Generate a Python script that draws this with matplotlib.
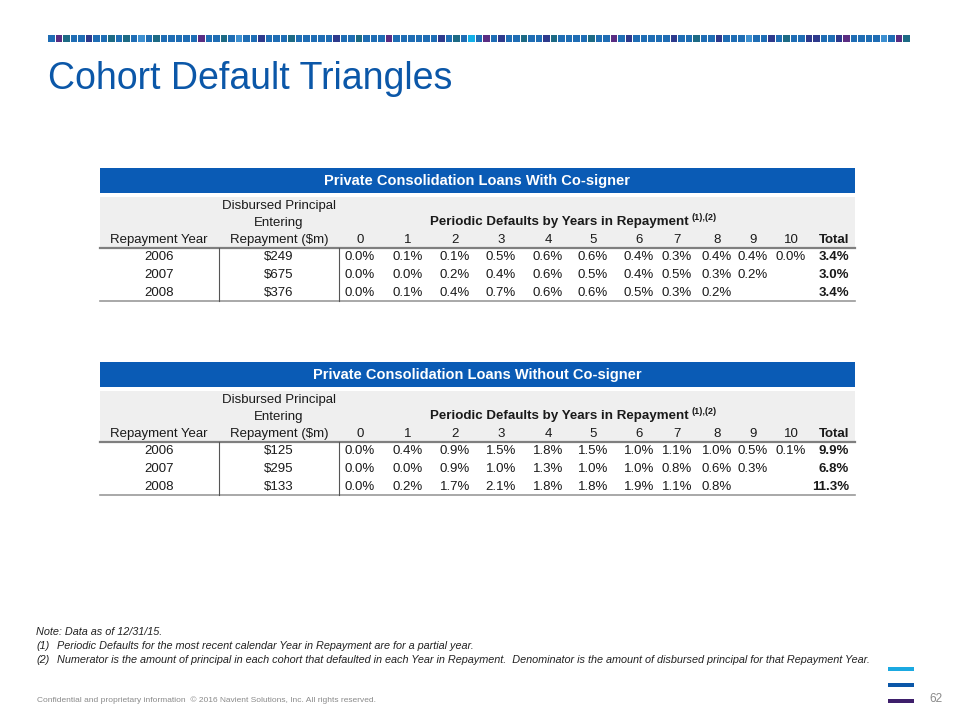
import matplotlib.pyplot as plt
from matplotlib.patches import Rectangle

plt.rcParams['font.family'] = ['Liberation Sans', 'DejaVu Sans']

# data
years = ['2006', '2007', '2008']
year_cols = ['0', '1', '2', '3', '4', '5', '6', '7', '8', '9', '10']

principal_cosigner = [249, 675, 376]
defaults_cosigner = [
    [0.0, 0.1, 0.1, 0.5, 0.6, 0.6, 0.4, 0.3, 0.4, 0.4, 0.0],
    [0.0, 0.0, 0.2, 0.4, 0.6, 0.5, 0.4, 0.5, 0.3, 0.2],
    [0.0, 0.1, 0.4, 0.7, 0.6, 0.6, 0.5, 0.3, 0.2],
]
total_cosigner = [3.4, 3.0, 3.4]

principal_no_cosigner = [125, 295, 133]
defaults_no_cosigner = [
    [0.0, 0.4, 0.9, 1.5, 1.8, 1.5, 1.0, 1.1, 1.0, 0.5, 0.1],
    [0.0, 0.0, 0.9, 1.0, 1.3, 1.0, 1.0, 0.8, 0.6, 0.3],
    [0.0, 0.2, 1.7, 2.1, 1.8, 1.8, 1.9, 1.1, 0.8],
]
total_no_cosigner = [9.9, 6.8, 11.3]

notes = [
    ('', 'Note: Data as of 12/31/15.'),
    ('(1)', 'Periodic Defaults for the most recent calendar Year in Repayment are for a partial year.'),
    ('(2)', 'Numerator is the amount of principal in each cohort that defaulted in each Year in Repayment.  '
            'Denominator is the amount of disbursed principal for that Repayment Year.'),
]

BLUE = '#0A5BB5'
TITLE_BLUE = '#0B57A8'
GRAY_BG = '#EFEFEF'
TXT = '#1A1A1A'

fig = plt.figure(figsize=(9.6, 7.2), dpi=100)
ax = fig.add_axes([0, 0, 1, 1])
ax.set_xlim(0, 960)
ax.set_ylim(720, 0)
ax.axis('off')

# decorative strip of squares at the top
palette = {'b': '#1F6DB4', 'n': '#2E3A8C', 'p': '#5A2D82', 't': '#1D6A84',
           'l': '#3D8FD0', 'c': '#12B0E8', 'm': '#0E63AE'}
pattern = ('bptbbnbbtbtblbtbbbbbpbbtblbbnbbbtbbbbbnbbtbbbpbbbbbbnbtbcbpbnbbtbb'
           'ntbbbbtbbpbnbbbbbnbbtbbnbbblbbnbtbbnnbbnpbbbbl')
sq = 7.5
n_sq = int((912 - 48) / sq)
for i in range(n_sq):
    ax.add_patch(Rectangle((48 + i * sq, 35), sq - 1, 6.5, color=palette[pattern[i % len(pattern)]], lw=0))

ax.text(48, 79, 'Cohort Default Triangles', fontsize=27, color=TITLE_BLUE, va='center', ha='left')

col_x = [360, 408, 455, 501, 548, 593, 639, 677, 717, 753, 791]
total_x = 849


def draw_table(top, title, principal, defaults, totals):
    left, right = 100, 855
    ax.add_patch(Rectangle((left, top), right - left, 25, color=BLUE, lw=0))
    ax.text((left + right) / 2, top + 13, title, color='white', fontsize=10.5,
            fontweight='bold', ha='center', va='center')
    ax.add_patch(Rectangle((left, top + 29), right - left, 51, color=GRAY_BG, lw=0))
    fs = 9.5
    ax.text(279, top + 38, 'Disbursed Principal', fontsize=fs, color=TXT, ha='center', va='center')
    ax.text(279, top + 55, 'Entering', fontsize=fs, color=TXT, ha='center', va='center')
    ax.text(159, top + 72, 'Repayment Year', fontsize=fs, color=TXT, ha='center', va='center')
    ax.text(279, top + 72, 'Repayment ($m)', fontsize=fs, color=TXT, ha='center', va='center')
    ax.text(430, top + 54, 'Periodic Defaults by Years in Repayment',
            fontsize=9.6, fontweight='bold', color=TXT, ha='left', va='center')
    ax.text(692, top + 49, '(1),(2)', fontsize=6.5, fontweight='bold', color=TXT, ha='left', va='center')
    for x, c in zip(col_x, year_cols):
        ax.text(x, top + 72, c, fontsize=fs, color=TXT, ha='center', va='center')
    ax.text(total_x, top + 72, 'Total', fontsize=fs, color=TXT, fontweight='bold', ha='right', va='center')

    line_y = top + 80
    ax.plot([left, right], [line_y, line_y], color='#7F7F7F', lw=1.6)
    for r, yr in enumerate(years):
        y = line_y + 9 + r * 18
        ax.text(159, y, yr, fontsize=fs, color=TXT, ha='center', va='center')
        ax.text(279, y, '$' + str(principal[r]), fontsize=fs, color=TXT, ha='center', va='center')
        for x, v in zip(col_x, defaults[r]):
            ax.text(x, y, f'{v:.1f}%', fontsize=fs, color=TXT, ha='center', va='center')
        ax.text(total_x, y, f'{totals[r]:.1f}%', fontsize=fs, color=TXT, fontweight='bold',
                ha='right', va='center')
    bottom = line_y + 53
    ax.plot([left, right], [bottom, bottom], color='#9A9A9A', lw=1.2)
    for x in (219, 339):
        ax.plot([x, x], [line_y, bottom], color='#555555', lw=0.8)


draw_table(168, 'Private Consolidation Loans With Co-signer',
           principal_cosigner, defaults_cosigner, total_cosigner)
draw_table(362, 'Private Consolidation Loans Without Co-signer',
           principal_no_cosigner, defaults_no_cosigner, total_no_cosigner)

# notes
for i, (tag, txt) in enumerate(notes):
    y = 632 + i * 14
    if tag:
        ax.text(36, y, tag, fontsize=7.8, style='italic', color='#222222', ha='left', va='center')
        ax.text(57, y, txt, fontsize=7.8, style='italic', color='#222222', ha='left', va='center')
    else:
        ax.text(36, y, txt, fontsize=7.8, style='italic', color='#222222', ha='left', va='center')

ax.text(37, 700, 'Confidential and proprietary information  \u00a9 2016 Navient Solutions, Inc. All rights reserved.',
        fontsize=6.0, color='#8A8A8A', ha='left', va='center')

for y, c in zip([669, 685, 701], ['#1BA9E1', '#0B57A8', '#3E1F6B']):
    ax.add_patch(Rectangle((888, y - 2), 26, 4, color=c, lw=0))
ax.text(936, 699, '62', fontsize=8.5, color='#8A8A8A', ha='center', va='center')

fig.savefig('out.png', dpi=100)
